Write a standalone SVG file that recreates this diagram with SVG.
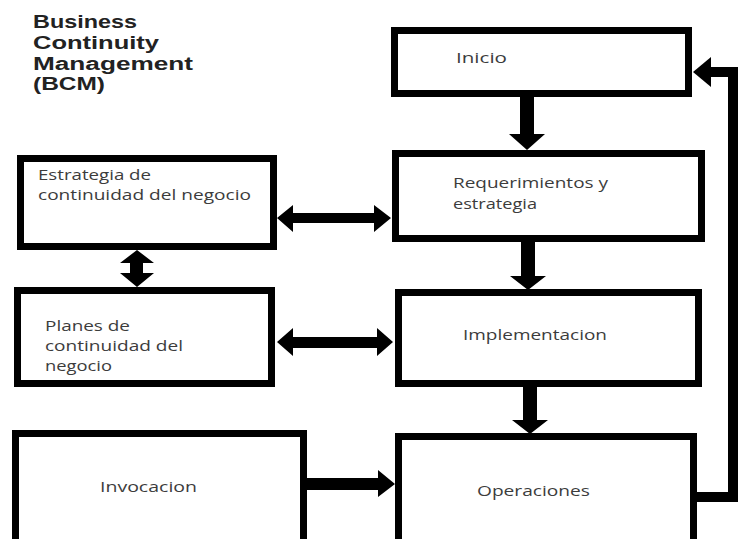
<svg xmlns="http://www.w3.org/2000/svg" width="738" height="539" viewBox="0 0 738 539">
<style>
.box{fill:#fff;stroke:#000;stroke-width:7}
.t{font-family:"Open Sans","Noto Sans","Liberation Sans",sans-serif;font-size:15px;fill:#3c3c3c}
.title{font-family:"Liberation Sans","Open Sans",sans-serif;font-size:18px;font-weight:bold;fill:#222}
.arr{fill:#000}
.line{fill:none;stroke:#000;stroke-width:10;stroke-linejoin:miter}
</style>
<rect width="738" height="539" fill="#fff"/>
<g id="title">
<text class="title" x="33" y="28" textLength="104" lengthAdjust="spacingAndGlyphs">Business</text>
<text class="title" x="33" y="49" textLength="126" lengthAdjust="spacingAndGlyphs">Continuity</text>
<text class="title" x="33" y="70" textLength="160" lengthAdjust="spacingAndGlyphs">Management</text>
<text class="title" x="33" y="90" textLength="72" lengthAdjust="spacingAndGlyphs">(BCM)</text>
</g>
<g id="connectors">
<polygon class="arr" points="520,97 534,97 534,134 545,134 527,150 509,134 520,134"/>
<polygon class="arr" points="521,242 535,242 535,276 546,276 528,290 510,276 521,276"/>
<polygon class="arr" points="523,387 537,387 537,420 548,420 530,434 512,420 523,420"/>
<polygon class="arr" points="277,218 293,205 293,213 374,213 374,205 391,218 374,232 374,223 293,223 293,232"/>
<polygon class="arr" points="277,342 293,328 293,337 377,337 377,328 393,342 377,356 377,348 293,348 293,356"/>
<polygon class="arr" points="137,250 154,263 143,263 143,273 154,273 137,287 120,273 130,273 130,263 120,263"/>
<polygon class="arr" points="307,478 378,478 378,470 395,484 378,497 378,490 307,490"/>
<path class="line" d="M697 497 H733 V72 H708"/>
<polygon class="arr" points="693,72 711,57 711,87"/>
</g>
<g id="inicio">
<rect class="box" x="394.5" y="30.5" width="294" height="63"/>
<text class="t" x="456" y="63" textLength="51" lengthAdjust="spacingAndGlyphs">Inicio</text>
</g>
<g id="requerimientos">
<rect class="box" x="395.5" y="153.5" width="306" height="85"/>
<text class="t" x="453" y="188" textLength="155" lengthAdjust="spacingAndGlyphs">Requerimientos y</text>
<text class="t" x="453" y="209" textLength="84" lengthAdjust="spacingAndGlyphs">estrategia</text>
</g>
<g id="implementacion">
<rect class="box" x="398.5" y="292.5" width="300" height="91"/>
<text class="t" x="463" y="340" textLength="144" lengthAdjust="spacingAndGlyphs">Implementacion</text>
</g>
<g id="operaciones">
<rect class="box" x="398.5" y="436.5" width="295" height="115"/>
<text class="t" x="477" y="496" textLength="113" lengthAdjust="spacingAndGlyphs">Operaciones</text>
</g>
<g id="estrategia">
<rect class="box" x="20.5" y="158.5" width="253" height="88"/>
<text class="t" x="38" y="180" textLength="113" lengthAdjust="spacingAndGlyphs">Estrategia de</text>
<text class="t" x="38" y="200" textLength="213" lengthAdjust="spacingAndGlyphs">continuidad del negocio</text>
</g>
<g id="planes">
<rect class="box" x="17.5" y="290.5" width="254" height="93"/>
<text class="t" x="45" y="331" textLength="85" lengthAdjust="spacingAndGlyphs">Planes de</text>
<text class="t" x="45" y="351" textLength="138" lengthAdjust="spacingAndGlyphs">continuidad del</text>
<text class="t" x="45" y="371" textLength="67" lengthAdjust="spacingAndGlyphs">negocio</text>
</g>
<g id="invocacion">
<rect class="box" x="15.5" y="433.5" width="288" height="120"/>
<text class="t" x="100" y="492" textLength="97" lengthAdjust="spacingAndGlyphs">Invocacion</text>
</g>
</svg>
